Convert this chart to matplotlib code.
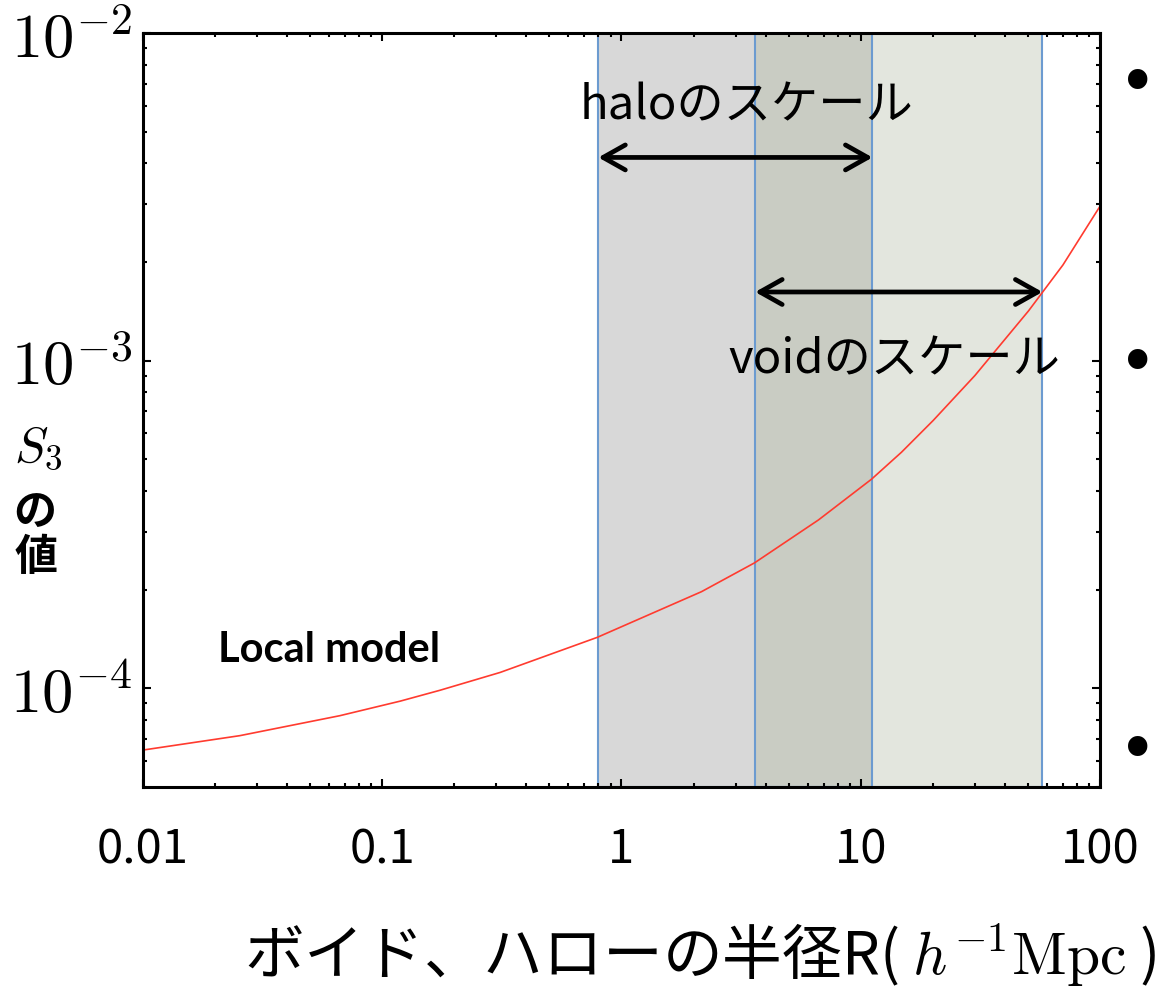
import matplotlib
matplotlib.use('Agg')
import matplotlib.pyplot as plt
from matplotlib.ticker import LogLocator, NullFormatter

plt.rcParams['mathtext.fontset'] = 'cm'
plt.rcParams['font.family'] = ['Noto Sans CJK JP', 'DejaVu Sans']

# S3 curve for the local model
radius = [0.01, 0.0254, 0.0665, 0.119, 0.174, 0.311, 0.791, 2.16, 3.60, 6.66,
          11.1, 14.8, 20.1, 30, 50.3, 70, 100]
s3 = [6.48e-5, 7.17e-5, 8.25e-5, 9.14e-5, 9.86e-5, 1.118e-4, 1.43e-4, 1.972e-4,
      2.415e-4, 3.265e-4, 4.348e-4, 5.253e-4, 6.571e-4, 9.004e-4, 1.419e-3,
      1.958e-3, 2.958e-3]

# scale ranges (h^-1 Mpc)
halo_range = [0.80, 11.2]
void_range = [3.62, 57.5]
halo_arrow_y = 4.17e-3
void_arrow_y = 1.62e-3

xticks = [0.01, 0.1, 1, 10, 100]
xticklabels = ['0.01', '0.1', '1', '10', '100']
yticks = [1e-4, 1e-3, 1e-2]
yticklabels = [r'$10^{-4}$', r'$10^{-3}$', r'$10^{-2}$']

fig = plt.figure(figsize=(11.57, 9.9), dpi=100)
ax = fig.add_axes([0.1236, 0.2051, 0.8271, 0.7616])
ax.set_xscale('log')
ax.set_yscale('log')
ax.set_xlim(0.01, 100)
ax.set_ylim(5e-5, 1e-2)

# shaded boxes: halo only, overlap, void only
ax.axvspan(halo_range[0], void_range[0], color='#d8d8d8', lw=0, zorder=0)
ax.axvspan(void_range[0], halo_range[1], color='#c9ccc3', lw=0, zorder=0)
ax.axvspan(halo_range[1], void_range[1], color='#e3e6de', lw=0, zorder=0)
for rng in (halo_range, void_range):
    ax.axvspan(rng[0], rng[1], facecolor='none', edgecolor='#6c9bd0', lw=1.5, zorder=1)

ax.plot(radius, s3, color='#ff3b2f', lw=1.2, zorder=2)

arrow = dict(arrowstyle='<->,head_length=0.8,head_width=0.45', color='black',
             lw=3.4, shrinkA=0, shrinkB=0, mutation_scale=20)
ax.annotate('', xy=(halo_range[1], halo_arrow_y), xytext=(halo_range[0], halo_arrow_y),
            arrowprops=arrow, zorder=3)
ax.annotate('', xy=(void_range[1], void_arrow_y), xytext=(void_range[0], void_arrow_y),
            arrowprops=arrow, zorder=3)

ax.text(3.33, 6.0e-3, 'haloのスケール', fontsize=34, ha='center', va='center')
ax.text(13.8, 1.0e-3, 'voidのスケール', fontsize=34, ha='center', va='center')
ax.text(0.0206, 1.31e-4, 'Local model', fontsize=30, fontweight='bold',
        family=['Lato', 'DejaVu Sans'], ha='left', va='center')

for sp in ax.spines.values():
    sp.set_linewidth(2.2)
    sp.set_zorder(4)

ax.xaxis.set_minor_locator(LogLocator(base=10, subs=range(2, 10), numticks=20))
ax.yaxis.set_minor_locator(LogLocator(base=10, subs=range(2, 10), numticks=20))
ax.xaxis.set_minor_formatter(NullFormatter())
ax.yaxis.set_minor_formatter(NullFormatter())
ax.set_xticks(xticks)
ax.set_xticklabels(xticklabels)
ax.set_yticks(yticks)
ax.set_yticklabels(yticklabels)
ax.tick_params(which='both', direction='in', top=True, right=True, width=1.5)
ax.tick_params(which='major', length=6)
ax.tick_params(which='minor', length=3)
ax.tick_params(axis='x', which='major', labelsize=34, pad=28)
ax.tick_params(axis='y', which='major', labelsize=45, pad=8)

fig.text(38 / 1157, 1 - 447 / 990, r'$S_3$', fontsize=36, ha='center', va='center')
fig.text(35 / 1157, 1 - 512 / 990, 'の', fontsize=31, fontweight='bold', ha='center', va='center')
fig.text(36 / 1157, 1 - 557 / 990, '値', fontsize=31, fontweight='bold', ha='center', va='center')

fig.text(700 / 1157, 1 - 955 / 990, r'ボイド、ハローの半径R( $h^{-1}\mathrm{Mpc}$ )',
         fontsize=43, ha='center', va='center')

for yb in (85, 365, 752):
    fig.text(1157 / 1157, 1 - yb / 990, '•', fontsize=48, ha='right', va='center',
             family=['DejaVu Sans'])

fig.savefig('out.png', dpi=100)
